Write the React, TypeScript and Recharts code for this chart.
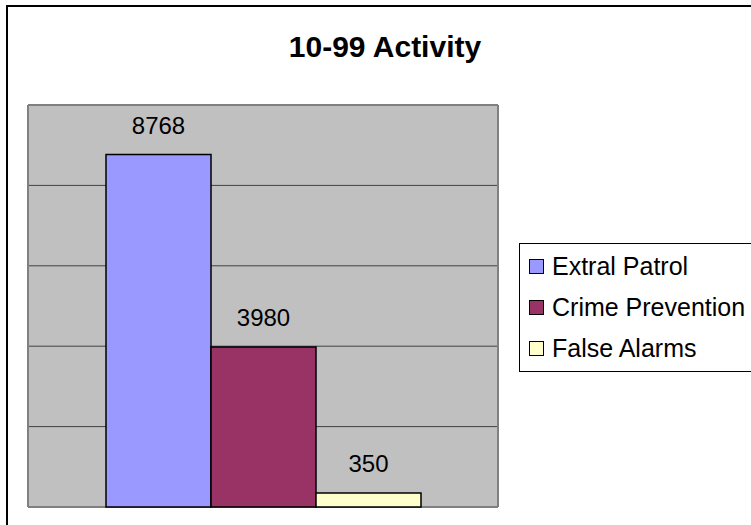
import React from 'react';
import { BarChart, Bar, XAxis, YAxis, CartesianGrid, Legend, LabelList } from 'recharts';

const categories = ['10-99 Activity'];
const seriesKeys = ['extral', 'crime', 'falseAlarms'];
const seriesNames = ['Extral Patrol', 'Crime Prevention', 'False Alarms'];
const seriesValues = [8768, 3980, 350];
const seriesColors = ['#9999ff', '#993366', '#ffffcc'];
const yTicks = [0, 2000, 4000, 6000, 8000, 10000];

const data = categories.map((name) => {
  const row: Record<string, string | number> = { name };
  seriesKeys.forEach((k, i) => {
    row[k] = seriesValues[i];
  });
  return row;
});

const FONT = '"Liberation Sans", Arial, sans-serif';

// legend keeps series order (recharts would sort it by name)
const LegendBox = () => (
  <div
    style={{
      border: '1px solid #000',
      background: '#fff',
      width: 260,
      paddingTop: 2,
      paddingBottom: 2,
      fontFamily: FONT,
    }}
  >
    {seriesNames.map((name, i) => (
      <div key={name} style={{ display: 'flex', alignItems: 'center', height: 41 }}>
        <span
          style={{
            display: 'inline-block',
            marginLeft: 9,
            width: 15,
            height: 15,
            boxSizing: 'border-box',
            border: '1.5px solid #000',
            background: seriesColors[i],
          }}
        />
        <span style={{ marginLeft: 8, fontSize: 25, color: '#000', whiteSpace: 'nowrap' }}>
          {name}
        </span>
      </div>
    ))}
  </div>
);

export default function App() {
  return (
    <div
      style={{
        position: 'fixed',
        left: 6,
        top: 5,
        width: 800,
        height: 600,
        border: '2px solid #000',
        overflow: 'hidden',
        background: '#fff',
        fontFamily: FONT,
      }}
    >
      <div
        style={{
          position: 'absolute',
          left: 0,
          top: 25,
          width: 754,
          textAlign: 'center',
          fontWeight: 'bold',
          fontSize: 30,
          lineHeight: '30px',
          color: '#000',
        }}
      >
        10-99 Activity
      </div>
      <BarChart
        width={743}
        height={518}
        data={data}
        margin={{ top: 98, left: 20, right: 253, bottom: 18 }}
        barCategoryGap={78}
        barGap={0}
        style={{ fontFamily: FONT }}
      >
        <CartesianGrid vertical={false} fill="#c0c0c0" stroke="#404040" strokeWidth={1} />
        <CartesianGrid
          fill="none"
          stroke="#808080"
          strokeWidth={2}
          horizontalCoordinatesGenerator={({ offset }: any) => [offset.top, offset.top + offset.height]}
          verticalCoordinatesGenerator={({ offset }: any) => [offset.left, offset.left + offset.width]}
        />
        <XAxis dataKey="name" hide />
        <YAxis hide domain={[0, 10000]} ticks={yTicks} />
        <Legend
          layout="horizontal"
          verticalAlign="middle"
          align="center"
          wrapperStyle={{ left: 511, top: 236, width: 262, height: 'auto' }}
          content={<LegendBox />}
        />
        {seriesKeys.map((k, i) => (
          <Bar
            key={k}
            dataKey={k}
            name={seriesNames[i]}
            fill={seriesColors[i]}
            stroke="#000"
            strokeWidth={1.5}
            isAnimationActive={false}
          >
            <LabelList dataKey={k} position="top" offset={21} fill="#000" fontSize={24} />
          </Bar>
        ))}
      </BarChart>
    </div>
  );
}
